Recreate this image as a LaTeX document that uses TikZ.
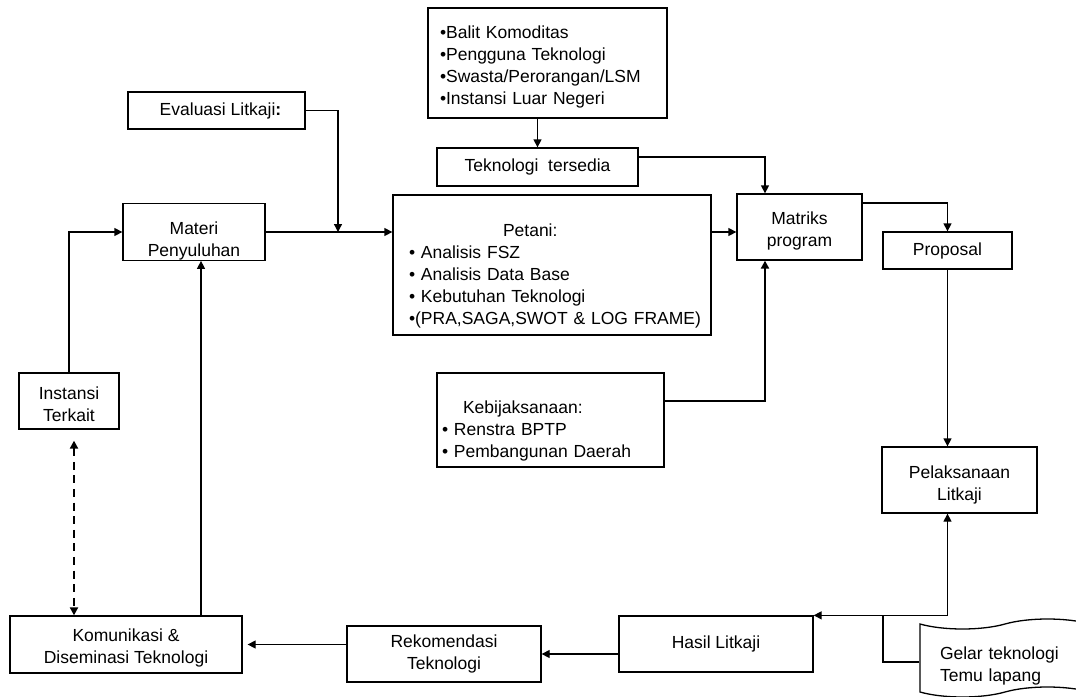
\documentclass[tikz,border=0pt]{standalone}
\usepackage{fontspec}
\setmainfont{Liberation Sans}
\usetikzlibrary{arrows.meta,shapes.symbols}
\newcommand\fsz{\fontsize{8.75pt}{11pt}\selectfont}
\newcommand\dn[1]{\rule{0pt}{\dimexpr 6.4pt+#1*2\relax}}
\begin{document}
\begin{tikzpicture}[x=0.5pt,y=-0.5pt,
  box/.style={draw=black, line width=0.65pt, rectangle, inner sep=0pt, align=center, font=\fsz},
  lbox/.style={box, align=left},
  con/.style={line width=0.65pt},
  arr/.style={con, -{Triangle[length=4pt,width=4pt]}},
  thickcon/.style={line width=1.25pt},
  dasharr/.style={line width=1.1pt, dash pattern=on 4pt off 2.8pt, {Triangle[length=4pt,width=4pt]}-{Triangle[length=4pt,width=4pt]}}
]
\useasboundingbox (0,0) rectangle (1076,696);

% boxes
\node[lbox, minimum width=119.5pt, minimum height=55pt, inner xsep=6pt, text width=107.5pt] (src) at (547.5,63)
  {\dn{2pt}•Balit Komoditas\\•Pengguna Teknologi\\•Swasta/Perorangan/LSM\\•Instansi Luar Negeri};
\node[box, minimum width=100.5pt, minimum height=19pt] (tek) at (537.5,167) {Teknologi\ \ tersedia};
\node[box, minimum width=88.5pt, minimum height=18.5pt] (eval) at (216.5,110.5) {\hspace*{4pt}Evaluasi Litkaji\textbf{:}};
\node[box, minimum width=71pt, minimum height=28pt] (materi) at (194,232) {\dn{4.5pt}Materi\\Penyuluhan};
\node[lbox, minimum width=159pt, minimum height=70pt, inner xsep=8pt, text width=143pt] (pet) at (552,265)
  {\rule{0pt}{17pt}\hspace*{47pt}Petani:\\• Analisis FSZ\\• Analisis Data Base\\• Kebutuhan Teknologi\\\mbox{•(PRA,SAGA,SWOT \& LOG FRAME)}};
\node[box, minimum width=62.5pt, minimum height=33pt] (mat) at (799.5,227) {\dn{2pt}Matriks\\program};
\node[lbox, minimum width=113.5pt, minimum height=47pt, inner xsep=2.5pt, text width=108.5pt] (keb) at (550.5,420)
  {\rule{0pt}{17.5pt}\hspace*{10.5pt}Kebijaksanaan:\\• Renstra BPTP\\• Pembangunan Daerah};
\node[box, minimum width=64.5pt, minimum height=18.5pt] (prop) at (947.5,250.5) {Proposal};
\node[box, minimum width=77.5pt, minimum height=33pt] (pel) at (959.5,480) {\dn{2.5pt}Pelaksanaan\\Litkaji};
\node[box, minimum width=97pt, minimum height=28pt] (hasil) at (716,644) {Hasil Litkaji};
\node[box, minimum width=97pt, minimum height=28pt] (rek) at (444,654) {Rekomendasi\\Teknologi};
\node[box, minimum width=116pt, minimum height=28.5pt] (kom) at (126,644.5) {\dn{1.5pt}Komunikasi \&\\Diseminasi Teknologi};
\node[box, minimum width=50pt, minimum height=28pt] (inst) at (69,401) {\dn{1.5pt}Instansi\\Terkait};
\node[draw=black, line width=0.65pt, tape, font=\fsz, align=left, inner xsep=10pt, inner ysep=0pt,
  text width=65pt, minimum width=85pt, minimum height=39pt] (gelar) at (1005,658)
  {\dn{4pt}Gelar teknologi\\Temu lapang};

% helper coordinates
\coordinate (mx) at (765,0);
\coordinate (ej) at (338,232);
\coordinate (hb) at (883,0);
\coordinate (x201) at (201,0);
\coordinate (x74) at (74,0);
\coordinate (y157) at (0,157);
\coordinate (y232) at (0,232);
\coordinate (y401) at (0,401);
\coordinate (y203) at (0,203);
\coordinate (y662) at (0,662);

% connectors
\draw[arr] (src.south -| tek.north) -- (tek.north);
\draw[arr] (tek.east |- y157) -| (mx |- mat.north);
\draw[arr] (eval.east) -| (ej);
\draw[arr] (materi.east) -- (materi.east -| pet.west);
\draw[arr] (pet.east |- y232) -- (mat.west |- y232);
\draw[thickcon, -{Triangle[length=4pt,width=4pt]}] (keb.east |- y401) -| (mx |- mat.south);
\draw[arr] (mat.east |- y203) -| (prop.north);
\draw[arr] (prop.south) -- (prop.south |- pel.north);
\draw[arr] (prop.south |- hasil.north) -- (prop.south |- pel.south);
\draw[arr] (prop.south |- hasil.north) -- (hasil.north east);
\draw[con] (hb |- hasil.north) |- (gelar.west |- y662);
\draw[arr] (hasil.west |- rek.east) -- (rek.east);
\draw[arr, shorten >=2.5pt] (rek.west |- kom.east) -- (kom.east);
\draw[arr] (kom.north -| x201) -- (materi.south -| x201);
\draw[arr] (inst.north) |- (materi.west);
\draw[dasharr, shorten <=5.5pt] (inst.south -| x74) -- (kom.north -| x74);
\end{tikzpicture}
\end{document}
